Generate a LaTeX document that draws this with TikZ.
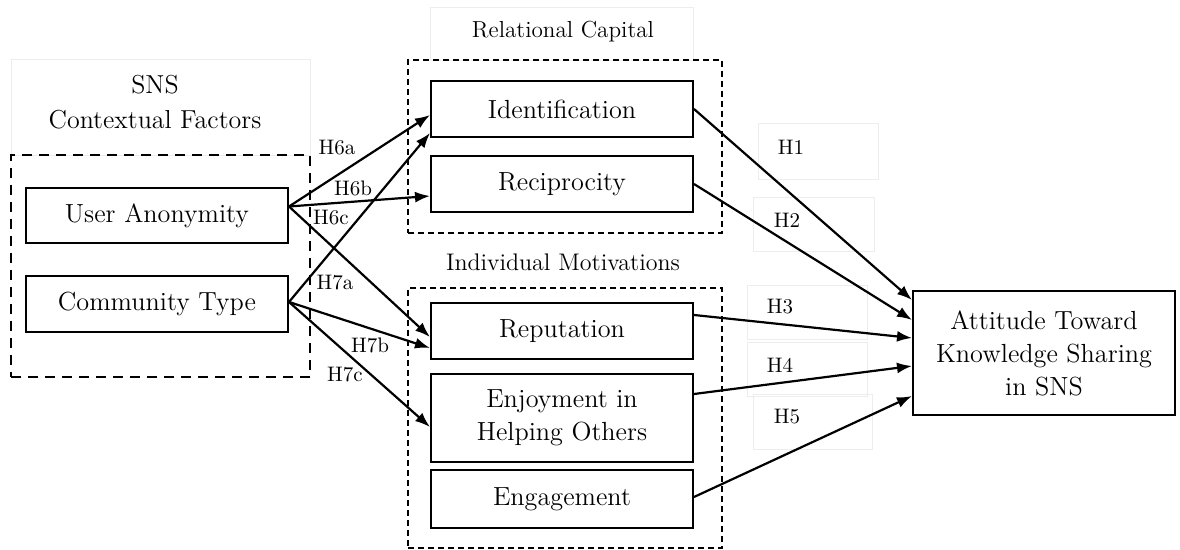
\documentclass[tikz,border=0pt]{standalone}
\usepackage{fontspec}
\usepackage{tikz}
\usetikzlibrary{arrows.meta}

\newcommand{\boxfont}{\fontsize{13.1}{16.5}\selectfont}
\newcommand{\hfont}{\fontsize{10.5}{12}\selectfont}

\begin{document}
\begin{tikzpicture}[
		x=0.5pt, y=-0.5pt,
		every node/.style={rectangle, inner sep=0pt},
		boxnode/.style={draw, line width=1pt, minimum width=131pt, align=center, font=\boxfont},
		dashbox/.style={draw, line width=0.8pt, dash pattern=on 3pt off 2pt},
		faint/.style={draw=gray!14, line width=0.4pt},
		hlabel/.style={font=\hfont},
		link/.style={line width=1.1pt, -{Latex[length=7.5pt, width=5.5pt]}}
	]
  \useasboundingbox (0, 0) rectangle (1180, 550);
  \draw [faint] (11, 59) rectangle (310, 155);
  \draw [faint] (430, 7) rectangle (693, 60);
  \draw [faint] (758, 123) rectangle (878, 179);
  \draw [faint] (753, 197) rectangle (874, 251);
  \draw [faint] (747, 285) rectangle (867, 339);
  \draw [faint] (747, 342) rectangle (867, 396);
  \draw [faint] (753, 394) rectangle (872, 449);
  \node (sns_title) [align=center, font=\fontsize{13}{17.5}\selectfont] at (155, 102) {SNS\\Contextual Factors};
  \node (rel_title) [font=\fontsize{11.6}{13}\selectfont] at (563, 32) {Relational Capital};
  \node (ind_title) [font=\fontsize{12}{13}\selectfont] at (563, 262) {Individual Motivations};
  \node (sns_box) [dashbox, line width=1.3pt, dash pattern=on 5pt off 3.5pt, minimum width=149.5pt, minimum height=111pt] at (160.5, 266) {};
  \node (rel_box) [dashbox, minimum width=157pt, minimum height=86.5pt] at (565, 146.5) {};
  \node (ind_box) [dashbox, minimum width=157pt, minimum height=130pt] at (565, 418) {};
  \node (user_anon) [boxnode, minimum height=27.5pt] at (157, 215.5) {User Anonymity};
  \node (comm_type) [boxnode, minimum height=28pt] at (157, 304) {Community Type};
  \node (ident) [boxnode, minimum height=28pt] at (562, 109) {Identification};
  \node (recip) [boxnode, minimum height=28pt] at (562, 184) {Reciprocity};
  \node (reput) [boxnode, minimum height=28pt] at (562, 331) {Reputation};
  \node (enjoy) [boxnode, minimum height=44pt] at (562, 418) {Enjoyment in\\Helping Others};
  \node (engage) [boxnode, minimum height=29pt] at (562, 499) {Engagement};
  \node (attitude) [boxnode, minimum height=62pt] at (1044, 353) {Attitude Toward\\Knowledge Sharing\\in SNS};
  \draw [link] ([yshift=4.5pt]user_anon.east) -- ([yshift=-3pt]ident.west);
  \draw [link] ([yshift=4.5pt]user_anon.east) -- ([yshift=-6pt]recip.west);
  \draw [link] ([yshift=4.5pt]user_anon.east) -- ([yshift=-3pt]reput.west);
  \draw [link] ([yshift=1pt]comm_type.east) -- ([yshift=-12pt]ident.west);
  \draw [link] ([yshift=1pt]comm_type.east) -- ([yshift=-8.5pt]reput.west);
  \draw [link] ([yshift=1pt]comm_type.east) -- ([yshift=-4.5pt]enjoy.west);
  \draw [link] (ident.east) -- ([yshift=26.5pt]attitude.west);
  \draw [link] (recip.east) -- ([yshift=16.5pt]attitude.west);
  \draw [link] ([yshift=8pt]reput.east) -- ([yshift=7.5pt]attitude.west);
  \draw [link] ([yshift=12pt]enjoy.east) -- ([yshift=-6.5pt]attitude.west);
  \draw [link] ([yshift=1pt]engage.east) -- ([yshift=-21.5pt]attitude.west);
  \node (h6a) [hlabel] at (337, 148) {H6a};
  \node (h6b) [hlabel] at (353, 188) {H6b};
  \node (h6c) [hlabel] at (331, 218) {H6c};
  \node (h7a) [hlabel] at (335, 283) {H7a};
  \node (h7b) [hlabel] at (370, 345) {H7b};
  \node (h7c) [hlabel] at (345, 375) {H7c};
  \node (h1) [hlabel] at (791, 147) {H1};
  \node (h2) [hlabel] at (787, 220) {H2};
  \node (h3) [hlabel] at (780, 307) {H3};
  \node (h4) [hlabel] at (780, 365) {H4};
  \node (h5) [hlabel] at (787, 417) {H5};
\end{tikzpicture}
\end{document}
